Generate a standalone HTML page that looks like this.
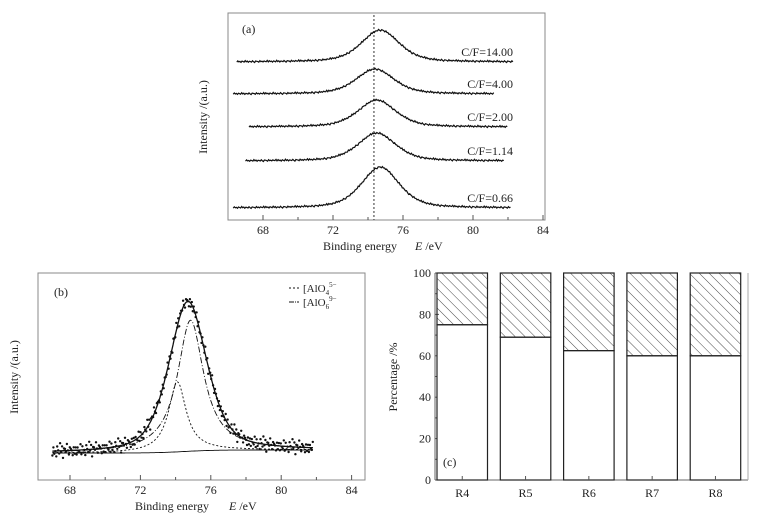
<!DOCTYPE html>
<html><head><meta charset="utf-8"><style>
html,body{margin:0;padding:0;background:#fff;}
svg{display:block;font-family:"Liberation Serif",serif;}
</style></head><body>
<svg id="fig" width="775" height="525" viewBox="0 0 775 525" xmlns="http://www.w3.org/2000/svg">
<g id="pa"></g>
<g id="pb"></g>
<g id="pc"></g>
</svg>
<script>
// ---- panel a data ----
const aLabels = ["C/F=14.00","C/F=4.00","C/F=2.00","C/F=1.14","C/F=0.66"];
const aBase = [62,94,127,161,208];
const aHeight = [32,25,27,28,41];
const aCenter = [74.7,74.4,74.5,74.5,74.7];
const aStart = [66.5,66.3,67.2,67.0,66.3];
const aEnd = [82.3,81.2,82.0,81.8,82.2];
const aRefLine = 74.34;
const xTicks = [68,72,76,80,84];
// ---- panel b data ----
const bTotalC = 74.7, bTotalH = 150;
const bAlO6C = 74.85, bAlO6H = 131;
const bAlO4C = 74.1, bAlO4H = 70;
const bNoise = [2,-3,1,-1,3,-2,0,2,-4,1,-2,3,-1,0,2,-3,1,4,-2,-1,0,3,-3,1,-1,2,-2,0,1,-4];
// ---- panel c data ----
const cCats = ["R4","R5","R6","R7","R8"];
const cLower = [75,69,62.5,60,60];
const cYTicks = [0,20,40,60,80,100];

const NS="http://www.w3.org/2000/svg";
function mk(p,t,a){const e=document.createElementNS(NS,t);for(const k in a)e.setAttribute(k,a[k]);p.appendChild(e);return e;}
function txt(p,x,y,s,size,anchor){const e=mk(p,'text',{x:x,y:y,'font-size':size||12,'text-anchor':anchor||'middle',fill:'#222'});e.textContent=s;return e;}
function lor(x,c,w){const d=(x-c)/w;return 1/(1+d*d);}
function pv(x,c){return 0.5*lor(x,c,1.25)+0.5*Math.exp(-Math.pow((x-c)/1.3,2)*0.693);}

// ===== Panel A =====
(function(){
const g=document.getElementById('pa');
const X=e=>228+(e-66)*17.5;
const fr=mk(g,'rect',{x:228,y:13,width:317,height:207,fill:'none',stroke:'#888','stroke-width':1});

xTicks.forEach(t=>{mk(g,'line',{x1:X(t),x2:X(t),y1:220,y2:215,stroke:'#555'});
 const l=txt(g,X(t),234,String(t),12);});
[70,74,78,82].forEach(t=>mk(g,'line',{x1:X(t),x2:X(t),y1:220,y2:217,stroke:'#555'}));
const xt=txt(g,360,250,'Binding energy    ',12);
const xi=mk(g,'text',{x:415,y:250,'font-size':12,fill:'#222'});xi.innerHTML='<tspan font-style="italic">E</tspan> /eV';
const yt=txt(g,207,117,'Intensity /(a.u.)',12);yt.setAttribute('transform','rotate(-90 207 117)');

const pl=txt(g,242,33,'(a)',12,'start');
const rl=mk(g,'line',{x1:X(aRefLine),x2:X(aRefLine),y1:15,y2:220,stroke:'#333','stroke-dasharray':'2,2','stroke-width':1});

aLabels.forEach((lab,i)=>{
 let d='';let k=0;
 for(let e=aStart[i];e<=aEnd[i];e+=0.06){const y=aBase[i]-aHeight[i]*pv(e,aCenter[i])+bNoise[k%bNoise.length]*0.25;k++;
  d+=(d?'L':'M')+X(e).toFixed(1)+','+y.toFixed(1);}
 const p=mk(g,'path',{d:d,fill:'none',stroke:'#111','stroke-width':1.2});
 
 const t=txt(g,513,aBase[i]-6,lab,12,'end');
 
});
})();

// ===== Panel B =====
(function(){
const g=document.getElementById('pb');
const X=e=>70+(e-68)*17.6;
const fr=mk(g,'rect',{x:38,y:273,width:327,height:207,fill:'none',stroke:'#888'});

xTicks.forEach(t=>{mk(g,'line',{x1:X(t),x2:X(t),y1:480,y2:475,stroke:'#555'});
 const l=txt(g,X(t),494,String(t),12);});
[70,74,78,82].forEach(t=>mk(g,'line',{x1:X(t),x2:X(t),y1:480,y2:477,stroke:'#555'}));
const xt=txt(g,172,510,'Binding energy    ',12);
const xi=mk(g,'text',{x:229,y:510,'font-size':12,fill:'#222'});xi.innerHTML='<tspan font-style="italic">E</tspan> /eV';
const yt=txt(g,18,377,'Intensity /(a.u.)',12);yt.setAttribute('transform','rotate(-90 18 377)');

const pl=txt(g,54,296,'(b)',12,'start');
const bg=e=>453-3*(1/(1+Math.exp(-(e-74.5)*1.2)));
let dT='',d6='',d4='',dB='';
for(let e=67;e<=81.8;e+=0.05){
 const b=bg(e),x=X(e).toFixed(1);
 dT+=(dT?'L':'M')+x+','+(b-bTotalH*pv(e,bTotalC)).toFixed(1);
 d6+=(d6?'L':'M')+x+','+(b-bAlO6H*lor(e,bAlO6C,0.9)).toFixed(1);
 d4+=(d4?'L':'M')+x+','+(b-bAlO4H*lor(e,bAlO4C,0.6)).toFixed(1);
 dB+=(dB?'L':'M')+x+','+b.toFixed(1);
}
[[dB,'none','background-line'],[d4,'2,2','alo4-fit-line'],[d6,'6,2,1,2','alo6-fit-line'],[dT,'none','total-fit-line']].forEach(s=>{
 const p=mk(g,'path',{d:s[0],fill:'none',stroke:'#111','stroke-width':s[2]=='total-fit-line'?1.3:0.9,'stroke-dasharray':s[1]});
 });
let k=0;
for(let e=67;e<=81.8;e+=0.055){
 const y=bg(e)-bTotalH*pv(e,bTotalC)+bNoise[k%bNoise.length]*1.6+bNoise[(k*7)%bNoise.length]*0.6;k++;
 const c=mk(g,'circle',{cx:X(e).toFixed(1),cy:y.toFixed(1),r:1.2,fill:'#111'});
 
}
const lg=mk(g,'g',{});
mk(lg,'line',{x1:289,x2:299,y1:288,y2:288,stroke:'#111','stroke-dasharray':'2,2'});
const l1=mk(lg,'text',{x:303,y:292,'font-size':11,fill:'#222'});l1.innerHTML='[AlO<tspan font-size="7" dy="3">4</tspan><tspan dy="-8" font-size="7">5−</tspan><tspan dy="5"></tspan>';

mk(lg,'line',{x1:289,x2:299,y1:302,y2:302,stroke:'#111','stroke-dasharray':'5,1,1,1'});
const l2=mk(lg,'text',{x:303,y:306,'font-size':11,fill:'#222'});l2.innerHTML='[AlO<tspan font-size="7" dy="3">6</tspan><tspan dy="-8" font-size="7">9−</tspan>';

})();

// ===== Panel C =====
(function(){
const g=document.getElementById('pc');
const Y=v=>480-v*2.07;
const x0=435,step=63.3,bw=50.5;
const defs=mk(g,'defs',{});
const pat=mk(defs,'pattern',{id:'hatch',patternUnits:'userSpaceOnUse',width:7,height:7,patternTransform:'rotate(-45)'});
mk(pat,'line',{x1:0,y1:0,x2:0,y2:7,stroke:'#333','stroke-width':0.9});
mk(g,'line',{x1:x0,x2:x0,y1:273,y2:480,stroke:'#666'});
mk(g,'line',{x1:x0,x2:748,y1:480,y2:480,stroke:'#666'});
mk(g,'line',{x1:748,x2:748,y1:273,y2:480,stroke:'#aaa'});
cYTicks.forEach(t=>{mk(g,'line',{x1:x0,x2:x0+4,y1:Y(t),y2:Y(t),stroke:'#555'});
 const l=txt(g,x0-4,Y(t)+4,String(t),12,'end');});
[10,30,50,70,90].forEach(t=>mk(g,'line',{x1:x0,x2:x0+2,y1:Y(t),y2:Y(t),stroke:'#555'}));
const yt=txt(g,397,377,'Percentage /%',12);yt.setAttribute('transform','rotate(-90 397 377)');

cCats.forEach((c,i)=>{
 const x=x0+2+i*step;
 const lo=mk(g,'rect',{x:x,y:Y(cLower[i]),width:bw,height:Y(0)-Y(cLower[i]),fill:'#fff',stroke:'#222','stroke-width':1.2});
 
 const up=mk(g,'rect',{x:x,y:Y(100),width:bw,height:Y(cLower[i])-Y(100),fill:'url(#hatch)',stroke:'#222','stroke-width':1.2});
 
 mk(g,'line',{x1:x+bw/2,x2:x+bw/2,y1:480,y2:476,stroke:'#555'});
 const l=txt(g,x+bw/2,497,c,12);
});
const pl=txt(g,443,466,'(c)',12,'start');
})();
</script>
</body></html>
